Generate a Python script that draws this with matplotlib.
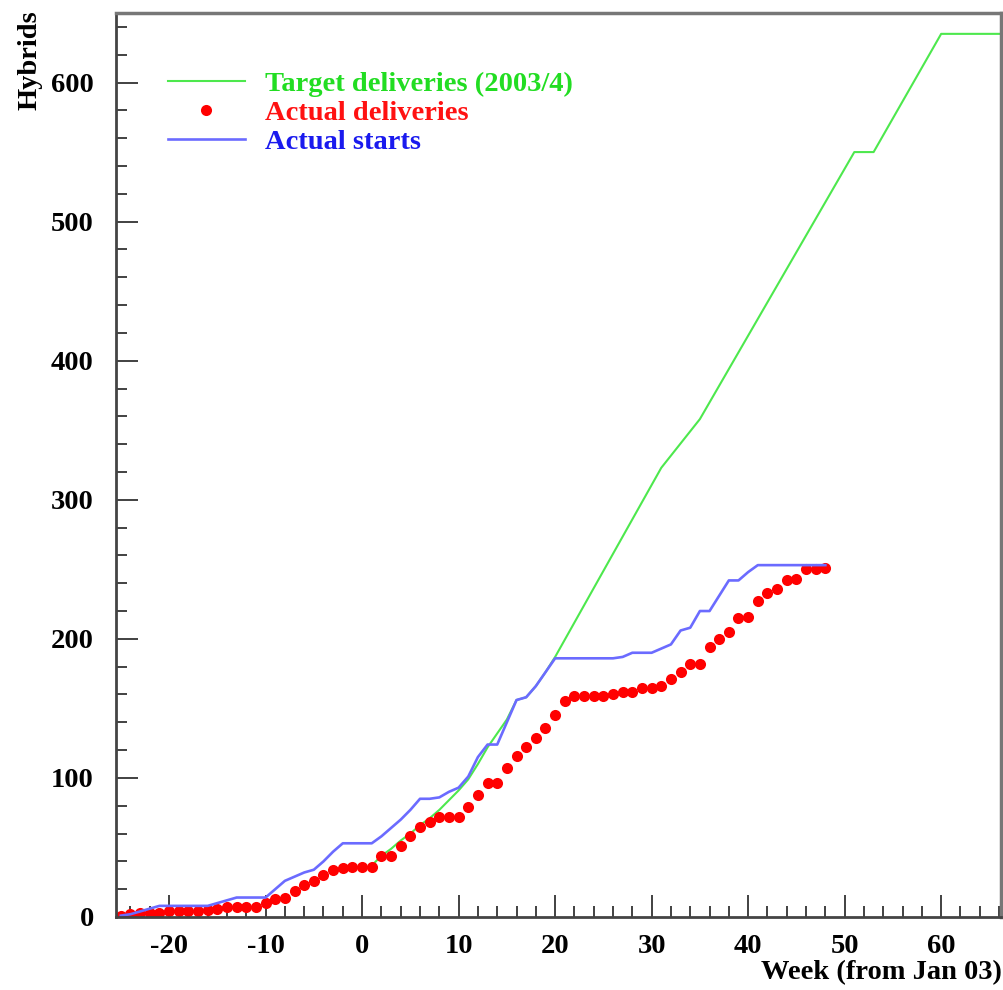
import numpy as np
import matplotlib.pyplot as plt
from matplotlib.ticker import MultipleLocator

# DATA
# Actual deliveries: one point per week
deliv_weeks = np.arange(-25, 49)
deliv_vals = [1, 2, 3, 3, 3, 4, 4, 4, 4, 5, 6, 7, 7, 7, 7,
              10, 13, 14, 19, 23, 26, 30, 34, 35, 36,
              36, 36, 44, 44, 51, 58, 65, 68, 72, 72, 72,
              79, 88, 96, 96, 107, 116, 122, 129, 136, 145,
              155, 159, 159, 159, 159, 160, 162, 162, 165, 165, 166,
              171, 176, 182, 182, 194, 200, 205, 215, 216,
              227, 233, 236, 242, 243, 250, 250, 251]

# Actual starts: one value per week
start_weeks = np.arange(-25, 49)
start_vals = [1, 2, 4, 6, 8, 8, 8, 8, 8, 8, 10, 12, 14, 14, 14,
              14, 20, 26, 29, 32, 34, 40, 47, 53, 53,
              53, 53, 58, 64, 70, 77, 85, 85, 86, 90, 93,
              101, 115, 124, 124, 140, 156, 158, 166, 176, 186,
              186, 186, 186, 186, 186, 186, 187, 190, 190, 190, 193,
              196, 206, 208, 220, 220, 231, 242, 242, 248,
              253, 253, 253, 253, 253, 253, 253, 253]

# Target deliveries (2003/4)
target_weeks = [1, 2, 3, 4, 5, 6, 7, 8, 9, 10, 11, 12, 13, 14, 15, 16, 17, 18, 19, 20,
                31, 35, 51, 53, 60, 66.2]
target_vals = [37, 44, 49, 55, 60, 66, 71, 77, 84, 91, 99, 110, 122, 132, 142, 156, 158, 166, 176, 187,
               323, 358, 550, 550, 635, 635]

labels = ['Target deliveries (2003/4)', 'Actual deliveries', 'Actual starts']
text_colors = ['#22dd22', '#ff1111', '#1a1aee']

plt.rcParams['font.family'] = ['Liberation Serif', 'DejaVu Serif']
plt.rcParams['font.weight'] = 'bold'
plt.rcParams['axes.unicode_minus'] = False
FS = 20.5

fig = plt.figure(figsize=(10.04, 9.9), dpi=100)
ax = fig.add_axes([116 / 1004, 73 / 990, 885 / 1004, 904 / 990])

ax.plot(target_weeks, target_vals, color='#4de84d', lw=1.5, label=labels[0])
ax.plot(deliv_weeks, deliv_vals, 'o', color='#ff0000', ms=8, mew=0, label=labels[1])
ax.plot(start_weeks, start_vals, color='#6b6bff', lw=1.9, label=labels[2])

ax.set_xlim(-25.5, 66.2)
ax.set_ylim(0, 650)

ax.xaxis.set_major_locator(MultipleLocator(10))
ax.xaxis.set_minor_locator(MultipleLocator(2))
ax.yaxis.set_major_locator(MultipleLocator(100))
ax.yaxis.set_minor_locator(MultipleLocator(20))
ax.tick_params(which='both', direction='in', color='#333333', width=1.3,
               top=False, right=False, labelsize=FS)
ax.tick_params(which='major', length=16)
ax.tick_params(which='minor', length=8)
ax.tick_params(axis='x', pad=12)
ax.tick_params(axis='y', pad=16)

for side in ['left', 'bottom']:
    ax.spines[side].set_color('#444444')
    ax.spines[side].set_linewidth(2)
for side in ['top', 'right']:
    ax.spines[side].set_color('#777777')
    ax.spines[side].set_linewidth(2.5)

leg = ax.legend(loc='upper left', bbox_to_anchor=(168 / 1004, 1 - 71 / 990),
                bbox_transform=fig.transFigure, frameon=False, fontsize=FS,
                handlelength=2.7, handletextpad=0.7, labelspacing=0.11,
                borderpad=0, borderaxespad=0, numpoints=1)
for txt, c in zip(leg.get_texts(), text_colors):
    txt.set_color(c)

fig.text(30 / 1004, 1 - 10 / 990, 'Hybrids', rotation=90, ha='center', va='top',
         fontsize=FS)
fig.text(1002 / 1004, 1 - 973 / 990, 'Week (from Jan 03)', ha='right', va='center',
         fontsize=FS)

fig.savefig('out.png', dpi=100)
